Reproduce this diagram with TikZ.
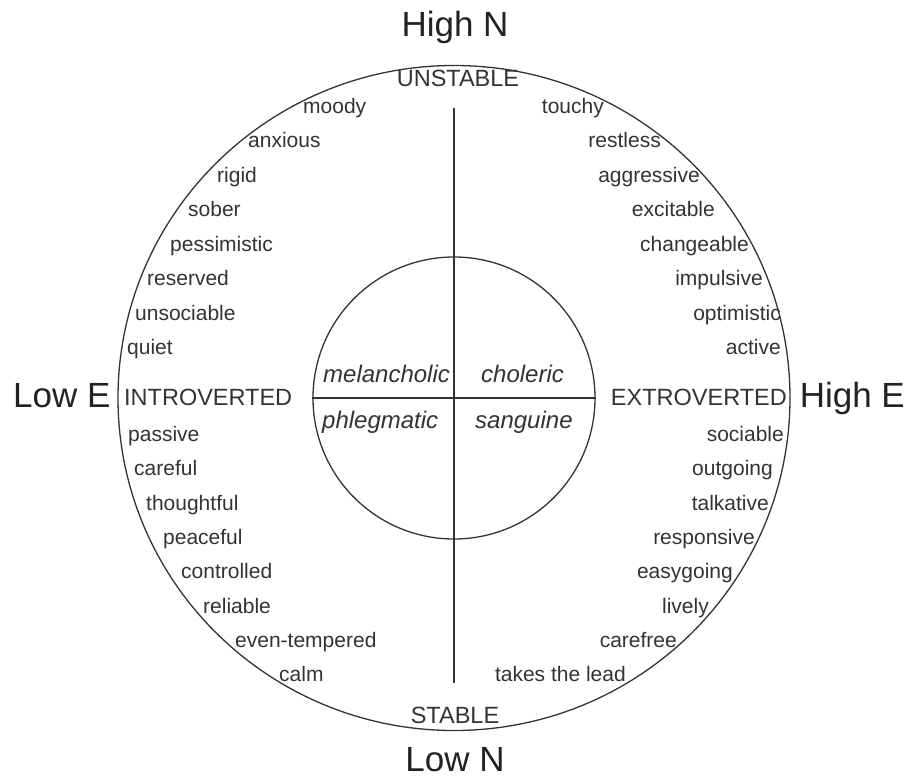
\documentclass[tikz,border=0pt]{standalone}
\usepackage{fontspec}
\setmainfont{Liberation Sans}
\definecolor{ink}{HTML}{333333}
\definecolor{bigink}{HTML}{222222}
\tikzset{
  word/.style={inner sep=0pt, text=ink, font=\fontsize{21}{21}\selectfont},
  lw/.style={word, anchor=base west},
  rw/.style={word, anchor=base east},
  caps/.style={inner sep=0pt, text=ink, font=\fontsize{23.5}{23.5}\selectfont},
  big/.style={inner sep=0pt, text=bigink, font=\fontsize{35}{35}\selectfont},
  temper/.style={inner sep=0pt, text=ink, anchor=base west, font=\fontsize{24}{24}\selectfont\itshape},
  ring/.style={draw=ink, line width=1.3pt},
  axis/.style={draw=ink, line width=1.3pt},
}
\begin{document}
\begin{tikzpicture}[x=1pt, y=-1pt]
\useasboundingbox (0,0) rectangle (911,778);
% circles
\draw[ring] (454,398) ellipse [x radius=336pt, y radius=332.5pt];
\node[ring, circle, minimum size=282pt, inner sep=0pt] (inner) at (454,398) {};
\coordinate (vtop) at (454,108);
\coordinate (vbot) at (454,683);
\draw[axis] (vtop) -- (vbot);
\draw[axis] (inner.west) -- (inner.east);
% axis labels
\node[big, anchor=base] (highN) at (455,37) {High N};
\node[big, anchor=base] (lowN) at (455,771) {Low N};
\node[big, anchor=base west] (lowE) at (13,407) {Low E};
\node[big, anchor=base east] (highE) at (905,407) {High E};
\node[caps, anchor=base] (unstable) at (458,87) {UNSTABLE};
\node[caps, anchor=base] (stable) at (455,723) {STABLE};
\node[caps, anchor=base west] (intro) at (124,405) {INTROVERTED};
\node[caps, anchor=base east] (extro) at (787,405) {EXTROVERTED};
% temperaments
\node[temper] (mel) at (323,382) {melancholic};
\node[temper] (chol) at (481,382) {choleric};
\node[temper] (phl) at (322,428) {phlegmatic};
\node[temper] (sang) at (475,428) {sanguine};
% left words
\node[lw] (w1) at (303,114) {moody};
\node[lw] (w2) at (248,148) {anxious};
\node[lw] (w3) at (217,183) {rigid};
\node[lw] (w4) at (188,217) {sober};
\node[lw] (w5) at (170,252) {pessimistic};
\node[lw] (w6) at (147,286) {reserved};
\node[lw] (w7) at (135,320) {unsociable};
\node[lw] (w8) at (127,355) {quiet};
\node[lw] (w9) at (128,441) {passive};
\node[lw] (w10) at (134,475) {careful};
\node[lw] (w11) at (146,510) {thoughtful};
\node[lw] (w12) at (163,544) {peaceful};
\node[lw] (w13) at (181,578) {controlled};
\node[lw] (w14) at (203,613) {reliable};
\node[lw] (w15) at (235,647) {even-tempered};
\node[lw] (w16) at (279,681) {calm};
% right words
\node[rw] (r1) at (604,114) {touchy};
\node[rw] (r2) at (661,148) {restless};
\node[rw] (r3) at (700,183) {aggressive};
\node[rw] (r4) at (715,217) {excitable};
\node[rw] (r5) at (749,252) {changeable};
\node[rw] (r6) at (763,286) {impulsive};
\node[rw] (r7) at (781,320) {optimistic};
\node[rw] (r8) at (781,355) {active};
\node[rw] (r9) at (784,441) {sociable};
\node[rw] (r10) at (773,475) {outgoing};
\node[rw] (r11) at (769,510) {talkative};
\node[rw] (r12) at (755,544) {responsive};
\node[rw] (r13) at (733,578) {easygoing};
\node[rw] (r14) at (709,613) {lively};
\node[rw] (r15) at (677,647) {carefree};
\node[rw] (r16) at (626,681) {takes the lead};
\end{tikzpicture}
\end{document}
